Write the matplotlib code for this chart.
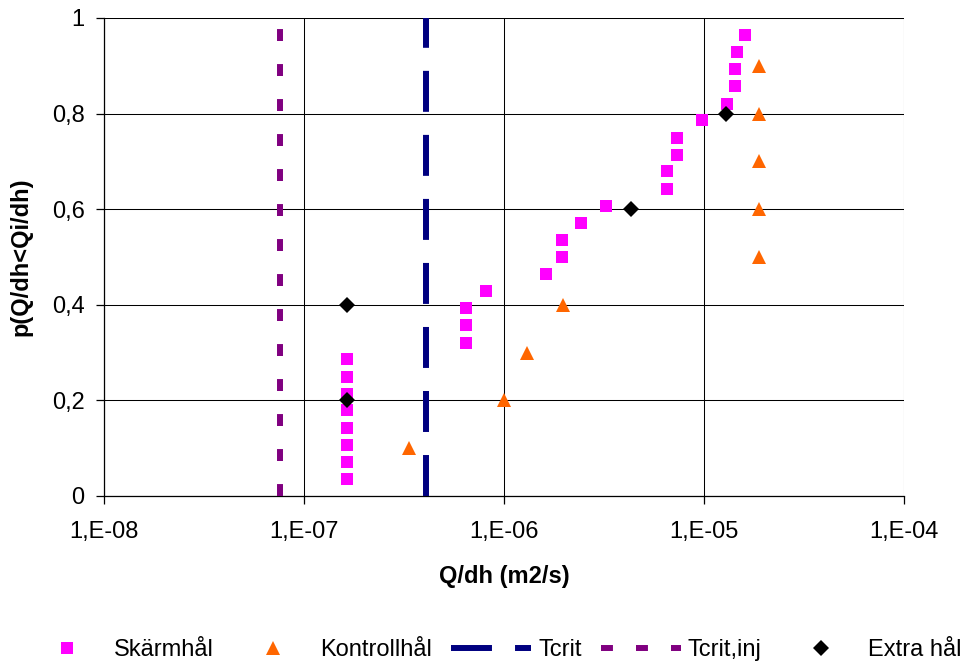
import matplotlib
matplotlib.use("Agg")
import matplotlib.pyplot as plt
from matplotlib.ticker import FixedLocator, FuncFormatter, NullLocator

plt.rcParams['font.family'] = ['Liberation Sans', 'DejaVu Sans']
plt.rcParams['lines.scale_dashes'] = False

# Skärmhål: transmissivity per hole and cumulative probability
skarm_q = [1.65e-7, 1.65e-7, 1.65e-7, 1.65e-7, 1.65e-7, 1.65e-7, 1.65e-7, 1.65e-7,
           6.48e-7, 6.48e-7, 6.48e-7, 8.1e-7, 1.62e-6, 1.94e-6, 1.94e-6, 2.43e-6,
           3.25e-6, 6.51e-6, 6.51e-6, 7.3e-6, 7.3e-6, 9.77e-6, 1.31e-5, 1.43e-5,
           1.43e-5, 1.46e-5, 1.60e-5]
skarm_p = [0.036, 0.071, 0.107, 0.143, 0.179, 0.214, 0.250, 0.286, 0.321, 0.357,
           0.393, 0.429, 0.464, 0.500, 0.536, 0.571, 0.607, 0.643, 0.679, 0.714,
           0.750, 0.786, 0.821, 0.857, 0.893, 0.929, 0.964]

# Kontrollhål
kontroll_q = [3.35e-7, 1.0e-6, 1.31e-6, 1.97e-6, 1.89e-5, 1.89e-5, 1.89e-5, 1.89e-5, 1.89e-5]
kontroll_p = [0.1, 0.2, 0.3, 0.4, 0.5, 0.6, 0.7, 0.8, 0.9]

# Extra hål
extra_q = [1.65e-7, 1.65e-7, 4.3e-6, 1.29e-5]
extra_p = [0.2, 0.4, 0.6, 0.8]

# Critical values
tcrit = 4.06e-7
tcrit_inj = 7.56e-8

x_ticks = [1e-8, 1e-7, 1e-6, 1e-5, 1e-4]
x_labels = ["1,E-08", "1,E-07", "1,E-06", "1,E-05", "1,E-04"]
y_ticks = [0, 0.2, 0.4, 0.6, 0.8, 1.0]
y_labels = ["0", "0,2", "0,4", "0,6", "0,8", "1"]

fig = plt.figure(figsize=(9.65, 6.66), dpi=100)
ax = fig.add_axes([104 / 965, 170 / 666, 800 / 965, 478 / 666])

ax.set_xscale('log')
ax.set_xlim(1e-8, 1e-4)
ax.set_ylim(0, 1)

ax.xaxis.set_major_locator(FixedLocator(x_ticks))
ax.xaxis.set_minor_locator(NullLocator())
ax.xaxis.set_major_formatter(FuncFormatter(lambda v, p: x_labels[x_ticks.index(min(x_ticks, key=lambda t: abs(t - v)))]))
ax.set_yticks(y_ticks)
ax.set_yticklabels(y_labels)

ax.grid(True, which='major', color='#000000', linewidth=0.75)
ax.set_axisbelow(True)
for s in ('top', 'right'):
    ax.spines[s].set_visible(False)
for s in ('left', 'bottom'):
    ax.spines[s].set_color('#000000')
    ax.spines[s].set_linewidth(0.9)

ax.tick_params(axis='both', direction='out', length=6, width=0.9, labelsize=17, color='#000000')
ax.tick_params(axis='y', pad=8)
ax.tick_params(axis='x', pad=12)

ax.plot(skarm_q, skarm_p, linestyle='none', marker='s', markersize=8,
        color='#FF00FF', markeredgewidth=0, label='Skärmhål', clip_on=False, zorder=4)
ax.plot(kontroll_q, kontroll_p, linestyle='none', marker='^', markersize=9.6,
        color='#FF6600', markeredgewidth=0, label='Kontrollhål', clip_on=False, zorder=4)
ax.plot([tcrit, tcrit], [0, 1], color='#000080', linewidth=4.3,
        dashes=(29.5, 16.6), solid_capstyle='butt', dash_capstyle='butt', label='Tcrit', zorder=3)
ax.plot([tcrit_inj, tcrit_inj], [0, 1], color='#800080', linewidth=4.3,
        dashes=(8.6, 16.6), dash_capstyle='butt', label='Tcrit,inj', zorder=3)
ax.plot(extra_q, extra_p, linestyle='none', marker='D', markersize=8,
        color='#000000', markeredgewidth=0, label='Extra hål', clip_on=False, zorder=5)

ax.set_xlabel('Q/dh (m2/s)', fontsize=17, fontweight='bold', labelpad=16)
ax.set_ylabel('p(Q/dh<Qi/dh)', fontsize=17, fontweight='bold', labelpad=14)

handles, labels = ax.get_legend_handles_labels()
fig.legend(handles, labels, loc='center', bbox_to_anchor=(494 / 965, 1 - 650 / 666),
           ncol=5, frameon=False, fontsize=17, handlelength=3.4, handletextpad=0.3,
           columnspacing=0.8, borderpad=0.2)

fig.savefig('out.png', dpi=100)
